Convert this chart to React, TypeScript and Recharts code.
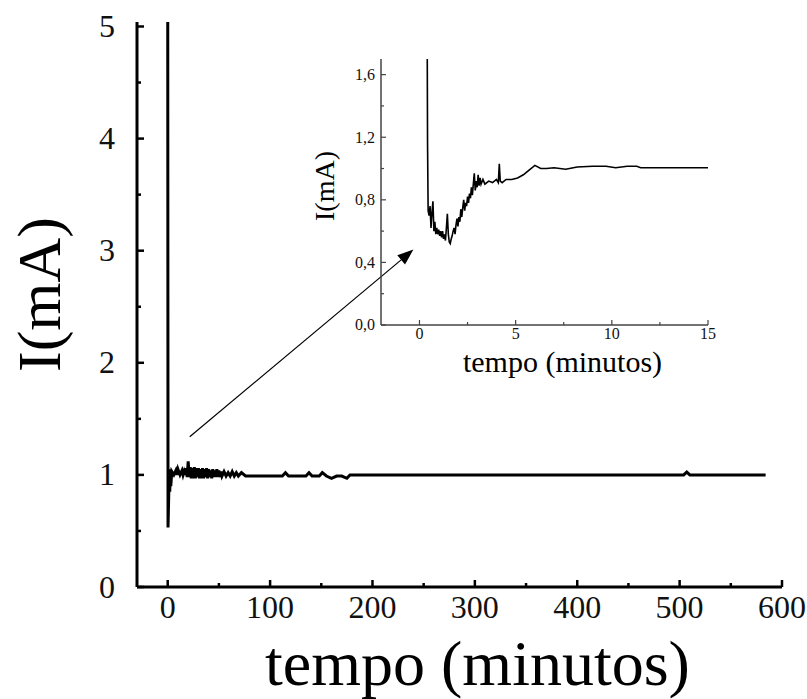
import { LineChart, Line, XAxis, YAxis, ReferenceLine } from 'recharts';

// main chart: current over the whole run (minutes, mA)
const mainTime = [
  0, 0.3, 1, 1.5, 2, 2.5, 3, 4, 6, 8,
  9, 10, 12, 14, 15, 16, 17, 18, 19, 20,
  21, 22, 23, 24, 25, 26, 27, 28, 29, 30,
  31, 32, 33, 34, 35, 36, 37, 38, 39, 40,
  41, 42, 43, 44, 45, 46, 47, 48, 49, 50,
  51, 52, 53, 55, 57, 59, 61, 63, 65, 67,
  69, 72, 76, 80, 112, 115, 118, 135, 138, 141,
  148, 151, 155, 160, 165, 170, 175, 178, 200, 300,
  400, 500, 504, 507, 510, 584,
];
const mainCurrent = [
  5.5, 0.53, 0.82, 1.05, 0.85, 1.04, 0.9, 1.03, 1.0, 1.04,
  1.0, 1.05, 1.0, 1.04, 1.0, 1.03, 1.0, 1.06, 0.98, 1.12,
  0.98, 1.07, 0.97, 1.06, 0.97, 1.07, 0.97, 1.06, 0.98, 1.06,
  0.97, 1.05, 0.97, 1.06, 0.97, 1.05, 0.98, 1.06, 0.97, 1.05,
  0.98, 1.04, 0.97, 1.05, 0.98, 1.04, 0.98, 1.05, 0.98, 1.04,
  0.98, 1.03, 0.99, 1.03, 0.99, 1.02, 0.99, 1.03, 0.99, 1.02,
  0.99, 1.02, 0.99, 0.99, 0.99, 1.02, 0.99, 0.99, 1.02, 0.99,
  0.99, 1.02, 0.99, 0.97, 0.99, 0.99, 0.97, 1.0, 1.0, 1.0,
  1.0, 1.0, 1.0, 1.025, 1.0, 1.0,
];

// inset: first 15 minutes
const insetTime = [
  0.4, 0.42, 0.45, 0.5, 0.55, 0.6, 0.65, 0.7, 0.75, 0.8,
  0.85, 0.9, 0.95, 1.0, 1.05, 1.1, 1.15, 1.2, 1.25, 1.3,
  1.35, 1.4, 1.45, 1.5, 1.55, 1.6, 1.65, 1.7, 1.75, 1.8,
  1.85, 1.9, 1.95, 2.0, 2.05, 2.1, 2.15, 2.2, 2.25, 2.3,
  2.35, 2.4, 2.45, 2.5, 2.55, 2.6, 2.65, 2.7, 2.75, 2.8,
  2.85, 2.9, 2.95, 3.0, 3.05, 3.1, 3.15, 3.2, 3.3, 3.4,
  3.6, 3.8, 4.0, 4.1, 4.15, 4.2, 4.3, 4.5, 4.8, 5.1,
  5.4, 5.7, 6.0, 6.3, 6.6, 7.0, 7.6, 8.2, 9.0, 9.7,
  10.2, 10.8, 11.3, 11.5, 13, 15,
];
const insetCurrent = [
  1.9, 1.16, 0.73, 0.7, 0.76, 0.62, 0.72, 0.79, 0.6, 0.66,
  0.58, 0.62, 0.58, 0.61, 0.57, 0.6, 0.56, 0.6, 0.55, 0.58,
  0.54, 0.62, 0.71, 0.58, 0.53, 0.52, 0.55, 0.57, 0.6, 0.62,
  0.58, 0.64, 0.68, 0.63, 0.69, 0.66, 0.74, 0.69, 0.75, 0.8,
  0.73, 0.78, 0.76, 0.82, 0.78, 0.84, 0.81, 0.88, 0.83, 0.9,
  0.97, 0.86, 0.92, 0.88, 0.96, 0.89, 0.94, 0.9, 0.93, 0.9,
  0.92, 0.91, 0.93, 0.91, 1.03, 0.92, 0.91, 0.93, 0.93, 0.94,
  0.96, 0.99, 1.02, 1.0, 1.0, 1.005, 0.995, 1.01, 1.015, 1.015,
  1.005, 1.015, 1.015, 1.005, 1.005, 1.005,
];

const mainXTicks = [0, 50, 100, 150, 200, 250, 300, 350, 400, 450, 500, 550, 600];
const mainXLabels = [0, 100, 200, 300, 400, 500, 600];
const mainYTicks = [0, 0.5, 1, 1.5, 2, 2.5, 3, 3.5, 4, 4.5, 5];
const mainYLabels = [0, 1, 2, 3, 4, 5];

const insetXTicks = [0, 2.5, 5, 7.5, 10, 12.5, 15];
const insetXLabels = [0, 5, 10, 15];
const insetYTicks = [0, 0.2, 0.4, 0.6, 0.8, 1.0, 1.2, 1.4, 1.6];
const insetYLabels = [0, 0.4, 0.8, 1.2, 1.6];

const arrowFrom = { x: 21.5, y: 1.34 };
const arrowTo = { x: 240, y: 3.01 };

const mainData = mainTime.map((t, i) => ({ t, I: mainCurrent[i] }));
const insetData = insetTime.map((t, i) => ({ t, I: insetCurrent[i] }));

const serif = '"Liberation Serif", "DejaVu Serif", serif';

// ticks point inward, labels only on the major values
const makeTick = (side: string, labels: number[], big: number, small: number, fontSize: number, color: string, fmt: (v: number) => string, gap: number) => (props: any) => {
  const { x, y, payload } = props;
  const v = payload.value;
  const major = labels.includes(v);
  const len = major ? big : small;
  const sw = big > 5 ? 2.5 : 1.2;
  let line = null;
  let label = null;
  if (side === 'bottom') {
    line = <line x1={x} y1={y} x2={x} y2={y - len} stroke={color} strokeWidth={sw} />;
    if (major) label = <text x={x} y={y + gap} textAnchor="middle" fontSize={fontSize} fontFamily={serif} fill="#111">{fmt(v)}</text>;
  } else if (side === 'top') {
    line = <line x1={x} y1={y} x2={x} y2={y + len} stroke={color} strokeWidth={sw} />;
  } else if (side === 'left') {
    line = <line x1={x} y1={y} x2={x + len} y2={y} stroke={color} strokeWidth={sw} />;
    if (major) label = <text x={x - gap} y={y + fontSize * 0.33} textAnchor="end" fontSize={fontSize} fontFamily={serif} fill="#111">{fmt(v)}</text>;
  } else {
    line = <line x1={x} y1={y} x2={x - len} y2={y} stroke={color} strokeWidth={sw} />;
  }
  return <g>{line}{label}</g>;
};

const plain = (v: number) => String(v);
const comma = (v: number) => v.toFixed(1).replace('.', ',');

const Arrow = (props: any) => {
  const { x1, y1, x2, y2 } = props;
  const a = Math.atan2(y2 - y1, x2 - x1);
  const L = 16;
  const W = 6;
  const bx = x2 - L * Math.cos(a);
  const by = y2 - L * Math.sin(a);
  const px = -Math.sin(a) * W;
  const py = Math.cos(a) * W;
  return (
    <g>
      <line x1={x1} y1={y1} x2={bx} y2={by} stroke="#000" strokeWidth={1.2} />
      <polygon points={`${x2},${y2} ${bx + px},${by + py} ${bx - px},${by - py}`} fill="#000" />
    </g>
  );
};

const App = () => {
  return (
    <div style={{ position: 'absolute', left: 0, top: 0, width: 807, height: 699, background: '#fff', overflow: 'hidden' }}>
      <LineChart width={807} height={699} data={mainData} margin={{ top: 22, right: 25, left: 0, bottom: 0 }}>
        <XAxis
          xAxisId="b"
          dataKey="t"
          type="number"
          domain={[-30, 600]}
          ticks={mainXTicks}
          allowDataOverflow
          height={112}
          tickSize={0}
          tickMargin={0}
          tickLine={false}
          axisLine={{ stroke: '#000', strokeWidth: 3 }}
          tick={makeTick('bottom', mainXLabels, 7, 4, 32, '#000', plain, 31)}
          label={{
            content: (p: any) => {
              const vb = p.viewBox;
              return (
                <text x={vb.x + vb.width / 2 + 18} y={vb.y + 98} textAnchor="middle" fontSize={64} fontFamily={serif} fill="#000">
                  tempo (minutos)
                </text>
              );
            },
          }}
        />
        <XAxis
          xAxisId="top"
          orientation="top"
          dataKey="t"
          type="number"
          domain={[-30, 600]}
          ticks={mainXTicks}
          allowDataOverflow
          height={0}
          tickSize={0}
          tickMargin={0}
          tickLine={false}
          axisLine={{ stroke: '#000', strokeWidth: 3 }}
          tick={makeTick('top', mainXLabels, 7, 4, 32, '#000', plain, 0)}
        />
        <YAxis
          yAxisId="l"
          type="number"
          domain={[0, 5.04]}
          ticks={mainYTicks}
          allowDataOverflow
          width={137}
          tickSize={0}
          tickMargin={0}
          tickLine={false}
          axisLine={{ stroke: '#000', strokeWidth: 3 }}
          tick={makeTick('left', mainYLabels, 7, 4, 32, '#000', plain, 22)}
          label={{
            content: (p: any) => {
              const vb = p.viewBox;
              const cy = vb.y + vb.height / 2 - 10;
              return (
                <text x={60} y={cy} transform={`rotate(-90 60 ${cy})`} textAnchor="middle" fontSize={62} fontFamily={serif} fill="#000">
                  I(mA)
                </text>
              );
            },
          }}
        />
        <YAxis
          yAxisId="r"
          orientation="right"
          type="number"
          domain={[0, 5.04]}
          ticks={mainYTicks}
          allowDataOverflow
          width={0}
          tickSize={0}
          tickMargin={0}
          tickLine={false}
          axisLine={{ stroke: '#000', strokeWidth: 3 }}
          tick={makeTick('right', mainYLabels, 7, 4, 32, '#000', plain, 0)}
        />
        <ReferenceLine
          xAxisId="b"
          yAxisId="l"
          segment={[arrowFrom, arrowTo]}
          ifOverflow="visible"
          shape={Arrow}
        />
        <Line
          xAxisId="b"
          yAxisId="l"
          dataKey="I"
          type="linear"
          stroke="#000"
          strokeWidth={3}
          dot={false}
          isAnimationActive={false}
        />
      </LineChart>

      <div style={{ position: 'absolute', left: 300, top: 50 }}>
        <LineChart width={420} height={340} data={insetData} margin={{ top: 9, right: 12, left: 0, bottom: 0 }}>
          <XAxis
            xAxisId="b"
            dataKey="t"
            type="number"
            domain={[-2, 15]}
            ticks={insetXTicks}
            allowDataOverflow
            height={65}
            tickSize={0}
            tickMargin={0}
            tickLine={false}
            axisLine={{ stroke: '#444', strokeWidth: 1.5 }}
            tick={makeTick('bottom', insetXLabels, 5, 3, 16, '#444', plain, 14)}
            label={{
              content: (p: any) => {
                const vb = p.viewBox;
                return (
                  <text x={vb.x + vb.width / 2 + 18} y={vb.y + 47} textAnchor="middle" fontSize={30} fontFamily={serif} fill="#000">
                    tempo (minutos)
                  </text>
                );
              },
            }}
          />
          <XAxis
            xAxisId="top"
            orientation="top"
            dataKey="t"
            type="number"
            domain={[-2, 15]}
            ticks={insetXTicks}
            allowDataOverflow
            height={0}
            tickSize={0}
            tickMargin={0}
            tickLine={false}
            axisLine={{ stroke: '#444', strokeWidth: 1.5 }}
            tick={makeTick('top', insetXLabels, 5, 3, 16, '#444', plain, 0)}
          />
          <YAxis
            yAxisId="l"
            type="number"
            domain={[0, 1.7]}
            ticks={insetYTicks}
            allowDataOverflow
            width={81}
            tickSize={0}
            tickMargin={0}
            tickLine={false}
            axisLine={{ stroke: '#444', strokeWidth: 1.5 }}
            tick={makeTick('left', insetYLabels, 5, 3, 16, '#444', comma, 6)}
            label={{
              content: (p: any) => {
                const vb = p.viewBox;
                const cy = vb.y + vb.height / 2 - 6;
                return (
                  <text x={34} y={cy} transform={`rotate(-90 34 ${cy})`} textAnchor="middle" fontSize={28} fontFamily={serif} fill="#000">
                    I(mA)
                  </text>
                );
              },
            }}
          />
          <YAxis
            yAxisId="r"
            orientation="right"
            type="number"
            domain={[0, 1.7]}
            ticks={insetYTicks}
            allowDataOverflow
            width={0}
            tickSize={0}
            tickMargin={0}
            tickLine={false}
            axisLine={{ stroke: '#444', strokeWidth: 1.5 }}
            tick={makeTick('right', insetYLabels, 5, 3, 16, '#444', comma, 0)}
          />
          <Line
            xAxisId="b"
            yAxisId="l"
            dataKey="I"
            type="linear"
            stroke="#000"
            strokeWidth={1.6}
            dot={false}
            isAnimationActive={false}
          />
        </LineChart>
      </div>
    </div>
  );
};

export default App;
